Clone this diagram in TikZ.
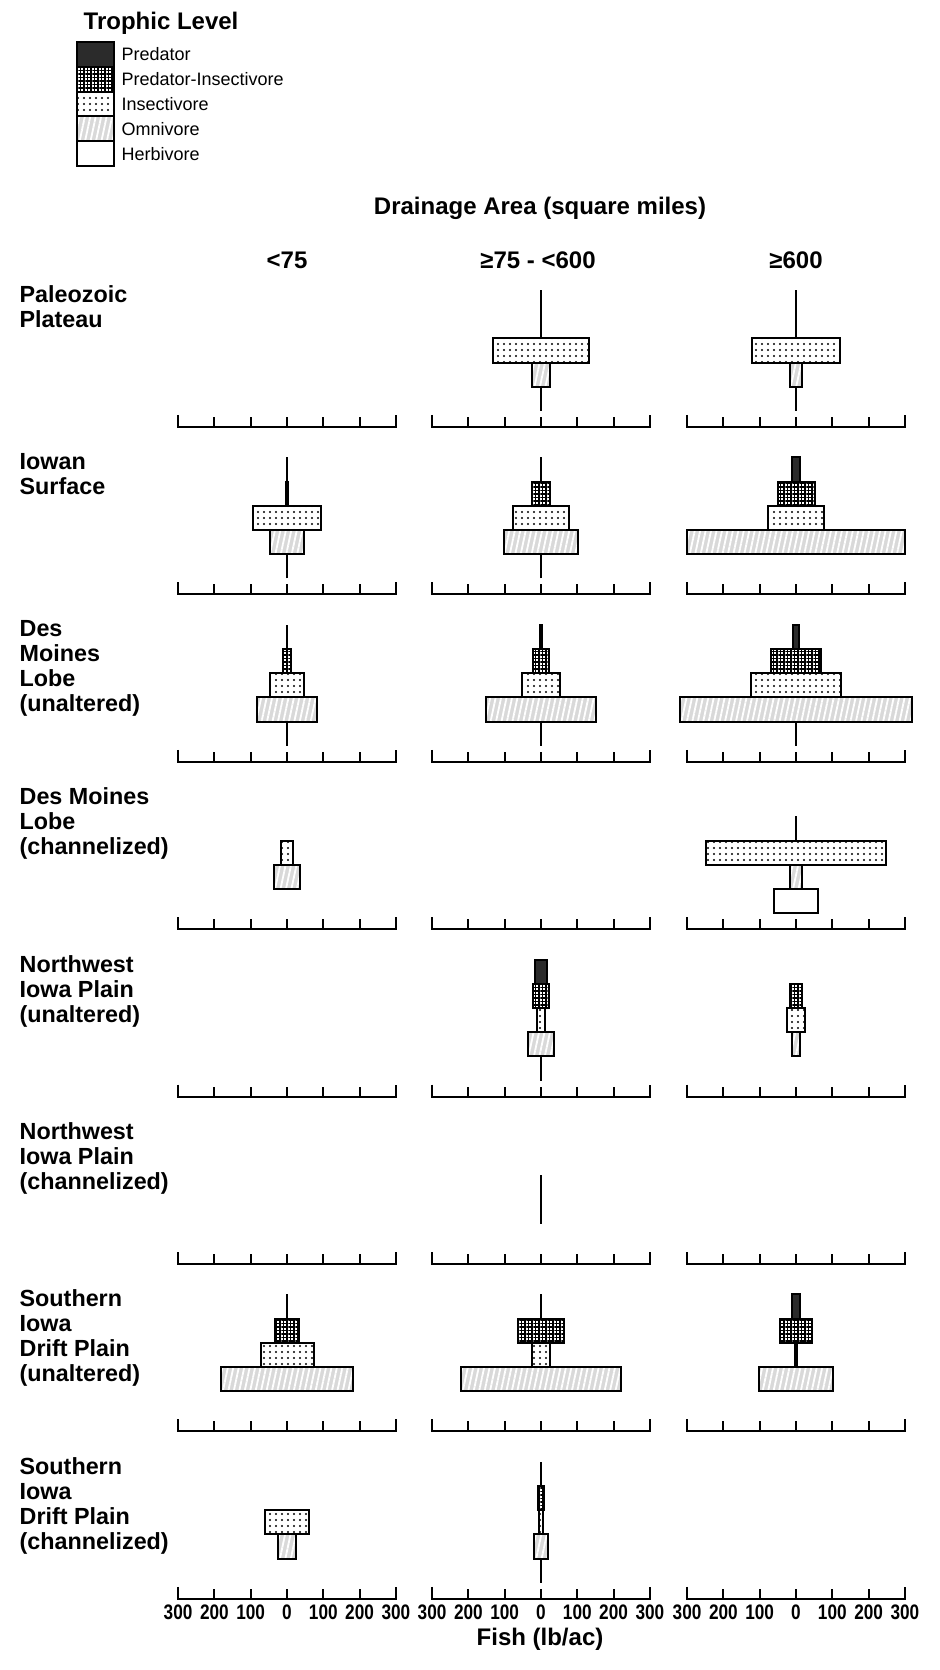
\documentclass[tikz,border=0pt]{standalone}
\usepackage{fontspec}
\setmainfont{Liberation Sans}
\newfontfamily\condfont{Liberation Sans}[FakeStretch=0.82]
\usetikzlibrary{patterns.meta}
\definecolor{color_pred_fill}{HTML}{2B2B2B}
\definecolor{color_omni_fill}{HTML}{D9D9D9}
\definecolor{color_omni_mark}{HTML}{FFFFFF}
\def\firstaxisy{427}
\def\rowstep{167.4}
\def\slotbase{16}
\def\slotheight{24.2}
\def\lbscale{0.363}
\def\barlinewidth{0.6pt}
% one slot of a trophic pyramid: column, row, slot (0 = herbivore), half width (lb/ac), style
\newcommand{\trophbar}[5]{%
    \pgfmathsetmacro{\cx}{{287,541,796}[#1-1]}%
    \pgfmathsetmacro{\ay}{\firstaxisy+(#2-1)*\rowstep}%
    \pgfmathsetmacro{\ylo}{\ay-\slotbase-#3*\slotheight}%
    \pgfmathsetmacro{\yhi}{\ylo-\slotheight}%
    \pgfmathsetmacro{\hw}{#4*\lbscale}%
    \ifdim #4pt=0pt
        \draw[stemline] (\cx,\ylo) -- (\cx,\yhi);
    \else
        \draw[#5] (\cx-\hw,\ylo) rectangle (\cx+\hw,\yhi);
    \fi
}

\begin{document}
\begin{tikzpicture}[x=0.3pt, y=-0.3pt,
        barline/.style={draw=black, line width=\barlinewidth, line join=miter},
        predbox/.style={barline, fill=color_pred_fill},
        predinsbox/.style={barline, preaction={fill=white}, pattern={Hatch[angle=0, distance=1.05pt, line width=0.4pt]}, pattern color=black},
        insbox/.style={barline, preaction={fill=white}, pattern={Dots[distance=1.8pt, radius=0.34pt]}, pattern color=black},
        omnibox/.style={barline, preaction={fill=color_omni_fill}, pattern={Lines[angle=78, distance=1.6pt, line width=0.55pt]}, pattern color=color_omni_mark},
        herbbox/.style={barline, fill=white},
        stemline/.style={draw=black, line width=0.45pt},
        axisline/.style={draw=black, line width=0.6pt, line join=miter},
        headtext/.style={inner sep=0pt, font=\fontsize{7.2}{8}\selectfont\bfseries},
        rowlabel/.style={anchor=north west, inner sep=0pt, align=left, font=\fontsize{7}{7.5}\selectfont\bfseries},
        legendtext/.style={anchor=west, inner sep=0pt, font=\fontsize{5.4}{6}\selectfont},
        ticklabel/.style={inner sep=0pt, font=\fontsize{6.3}{7}\selectfont\condfont\bfseries}]
    \useasboundingbox (0,0) rectangle (939,1670);
    % legend
    \node[headtext, anchor=west] (legend_title) at (83,23) {Trophic Level};
    \foreach \i/\st/\txt in {0/predbox/Predator, 1/predinsbox/Predator-Insectivore, 2/insbox/Insectivore, 3/omnibox/Omnivore, 4/herbbox/Herbivore} {
        \draw[\st] (77,42+\i*24.8) rectangle (114,42+\i*24.8+24.8);
        \node[legendtext] (legend_\i) at (121,54.4+\i*24.8) {\txt};
    }
    % headings
    \node[headtext] (hdr_area) at (540,208) {Drainage Area (square miles)};
    \node[headtext] (hdr_col1) at (287,260) {<75};
    \node[headtext] (hdr_col2) at (538,260) {≥75 - <600};
    \node[headtext] (hdr_col3) at (796,260) {≥600};
    % region labels
    \foreach \r/\txt in {1/{Paleozoic\\Plateau}, 2/{Iowan\\Surface}, 3/{Des\\Moines\\Lobe\\(unaltered)}, 4/{Des Moines\\Lobe\\(channelized)}, 5/{Northwest\\Iowa Plain\\(unaltered)}, 6/{Northwest\\Iowa Plain\\(channelized)}, 7/{Southern\\Iowa\\Drift Plain\\(unaltered)}, 8/{Southern\\Iowa\\Drift Plain\\(channelized)}} {
        \pgfmathsetmacro{\ly}{\firstaxisy+(\r-1)*\rowstep-142}
        \node[rowlabel] (row_\r) at (19,\ly) {\txt};
    }
    % axes
    \foreach \r in {1,...,8} {
        \foreach \c/\cx in {1/287, 2/541, 3/796} {
            \pgfmathsetmacro{\ay}{\firstaxisy+(\r-1)*\rowstep}
            \draw[axisline] (\cx-109,\ay-12) -- (\cx-109,\ay) -- (\cx+109,\ay) -- (\cx+109,\ay-12);
            \foreach \v in {-200,-100,0,100,200}
                \draw[axisline] (\cx+\v*\lbscale,\ay) -- (\cx+\v*\lbscale,\ay-10);
        }
    }
    % biomass by trophic level
    \foreach \c/\r/\k/\w/\st in {
        2/1/4/0/predbox, 2/1/3/0/predinsbox, 2/1/2/132/insbox, 2/1/1/26/omnibox, 2/1/0/0/herbbox,
        3/1/4/0/predbox, 3/1/3/0/predinsbox, 3/1/2/120/insbox, 3/1/1/17/omnibox, 3/1/0/0/herbbox,
        1/2/4/0/predbox, 1/2/3/2.5/predbox, 1/2/2/93/insbox, 1/2/1/48/omnibox, 1/2/0/0/herbbox,
        2/2/4/0/predbox, 2/2/3/26/predinsbox, 2/2/2/76/insbox, 2/2/1/103/omnibox, 2/2/0/0/herbbox,
        3/2/4/10/predbox, 3/2/3/51/predinsbox, 3/2/2/78/insbox, 3/2/1/300/omnibox,
        1/3/4/0/predbox, 1/3/3/12/predinsbox, 1/3/2/46/insbox, 1/3/1/84/omnibox, 1/3/0/0/herbbox,
        2/3/4/4/predbox, 2/3/3/22/predinsbox, 2/3/2/51/insbox, 2/3/1/151/omnibox, 2/3/0/0/herbbox,
        3/3/4/8/predbox, 3/3/3/68/predinsbox, 3/3/2/123/insbox, 3/3/1/320/omnibox, 3/3/0/0/herbbox,
        1/4/2/17/insbox, 1/4/1/37/omnibox,
        3/4/3/0/predinsbox, 3/4/2/247/insbox, 3/4/1/16/omnibox, 3/4/0/60/herbbox,
        2/5/4/16/predbox, 2/5/3/21/predinsbox, 2/5/2/12/insbox, 2/5/1/37/omnibox, 2/5/0/0/herbbox,
        3/5/3/17/predinsbox, 3/5/2/25/insbox, 3/5/1/12/omnibox,
        2/6/2/0/insbox, 2/6/1/0/omnibox,
        1/7/4/0/predbox, 1/7/3/33/predinsbox, 1/7/2/73/insbox, 1/7/1/182/omnibox,
        2/7/4/0/predbox, 2/7/3/63/predinsbox, 2/7/2/24/insbox, 2/7/1/220/omnibox,
        3/7/4/10/predbox, 3/7/3/45/predinsbox, 3/7/2/3/insbox, 3/7/1/102/omnibox,
        1/8/2/61/insbox, 1/8/1/25/omnibox,
        2/8/4/0/predbox, 2/8/3/8/predinsbox, 2/8/2/5/insbox, 2/8/1/18/omnibox, 2/8/0/0/herbbox}
        \trophbar{\c}{\r}{\k}{\w}{\st};
    % scale under the last row
    \foreach \c/\cx in {1/287, 2/541, 3/796}
        \foreach \v/\t in {-300/300, -200/200, -100/100, 0/0, 100/100, 200/200, 300/300}
            \node[ticklabel] (tick_\c_\v) at (\cx+\v*\lbscale,1612) {\t};
    \node[headtext] (axis_title) at (540,1639) {Fish (lb/ac)};
\end{tikzpicture}
\end{document}
